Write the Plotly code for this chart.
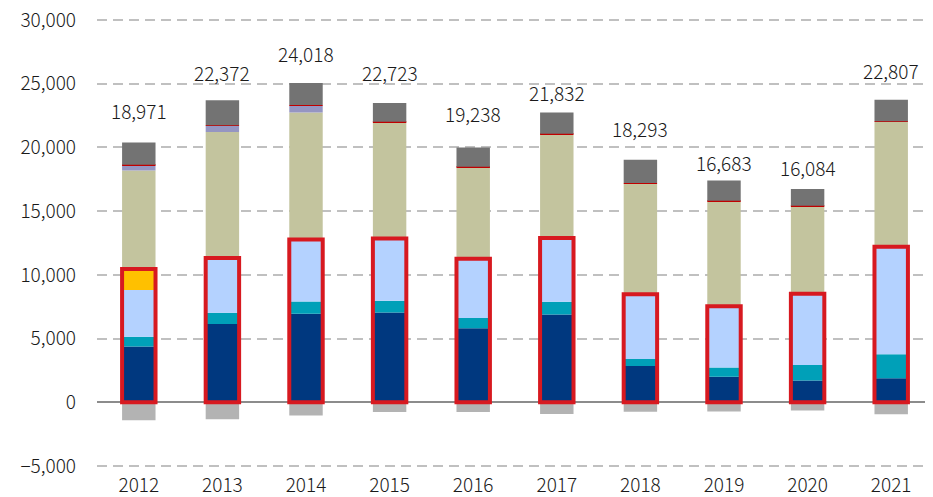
import plotly.graph_objects as go

years = ["2012", "2013", "2014", "2015", "2016", "2017", "2018", "2019", "2020", "2021"]

navy = [4370, 6150, 6940, 7040, 5810, 6880, 2850, 2010, 1700, 1890]
teal = [780, 870, 960, 920, 810, 1000, 550, 710, 1230, 1880]
light_blue = [3670, 4310, 4870, 4890, 4640, 5020, 5080, 4820, 5580, 8430]
yellow = [1630, 0, 0, 0, 0, 0, 0, 0, 0, 0]
khaki = [7740, 9880, 9980, 9110, 7170, 8120, 8670, 8220, 6860, 9800]
lavender = [400, 480, 530, 0, 0, 0, 0, 0, 0, 0]
red_thin = [50, 50, 50, 50, 50, 50, 50, 50, 50, 50]
dark_grey = [1750, 1960, 1730, 1480, 1520, 1680, 1830, 1600, 1310, 1700]
negative = [-1419, -1328, -1042, -767, -762, -918, -737, -727, -646, -943]

# label placement (data units, centre of each total label)
label_pos = [22875, 25900, 27350, 25900, 22640, 24330, 21460, 18790, 18440, 26020]

series = [
    (navy, "#00387F"),
    (teal, "#00A0B8"),
    (light_blue, "#B4D2FF"),
    (yellow, "#FFC000"),
    (khaki, "#C3C49E"),
    (lavender, "#9595C2"),
    (red_thin, "#C00000"),
    (dark_grey, "#737373"),
]

BAR_W = 0.4
FONT = "Noto Sans CJK KR"
TXT = dict(family=FONT, size=19, color="#1a1a1a", weight=300)

fig = go.Figure()
for vals, col in series:
    fig.add_trace(go.Bar(x=years, y=vals, width=BAR_W, marker=dict(color=col, line=dict(width=0)),
                         showlegend=False, hoverinfo="skip"))
fig.add_trace(go.Bar(x=years, y=negative, width=BAR_W, marker=dict(color="#B3B3B3", line=dict(width=0)),
                     showlegend=False, hoverinfo="skip"))

outline = [a + b + c + d for a, b, c, d in zip(navy, teal, light_blue, yellow)]
fig.add_trace(go.Bar(x=years, y=outline, width=BAR_W, yaxis="y2",
                     marker=dict(color="rgba(0,0,0,0)", line=dict(color="#D71920", width=4)),
                     showlegend=False, hoverinfo="skip"))

pos_tot = [sum(v) for v in zip(navy, teal, light_blue, yellow, khaki, lavender, red_thin, dark_grey)]
net = [p + n for p, n in zip(pos_tot, negative)]
for i, (v, ly) in enumerate(zip(net, label_pos)):
    fig.add_annotation(x=i, y=ly, xref="x", yref="y", text=f"{v:,}", showarrow=False,
                       yanchor="middle", font=TXT)

RANGE = [-5160, 30160]
# page body has an 8px default margin, so the figure is offset by 8px
fig.update_layout(
    width=925, height=489,
    margin=dict(l=89, r=0, t=10, b=29),
    barmode="relative",
    plot_bgcolor="white", paper_bgcolor="white",
    font=TXT,
    xaxis=dict(type="category", categoryorder="array", categoryarray=years,
               range=[-0.5, len(years) - 0.5],
               showgrid=False, showline=False, ticks="", ticklabelstandoff=4,
               ticklabeloverflow="allow",
               automargin=False, tickfont=TXT),
    yaxis=dict(range=RANGE, tickvals=[-5000, 0, 5000, 10000, 15000, 20000, 25000, 30000],
               tickformat=",d", showgrid=True,
               gridcolor="#C0C0C0", gridwidth=2, griddash="10px,6px",
               zeroline=True, zerolinecolor="#8C8C8C", zerolinewidth=1.5,
               showline=False, ticks="", ticklabelstandoff=20, automargin=False,
               ticklabeloverflow="allow", tickfont=TXT),
    yaxis2=dict(range=RANGE, overlaying="y", showgrid=False, zeroline=False, automargin=False,
                showticklabels=False, showline=False, ticks=""),
)

fig.write_html("out.html")
